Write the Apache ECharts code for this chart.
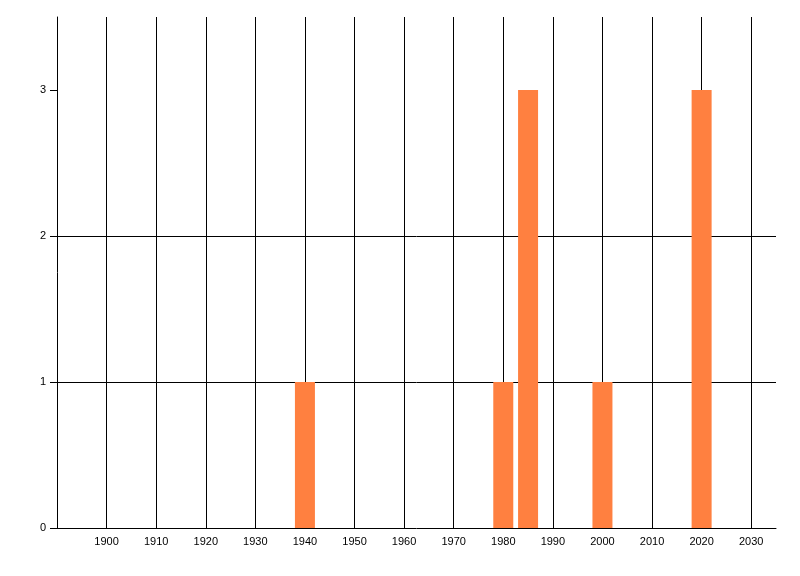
<!DOCTYPE html>
<html>
	<head>
		<meta charset="utf-8" />
		<title></title>
		<script type="text/javascript" src="https://cdn.jsdelivr.net/npm/echarts@6/dist/echarts.min.js"></script>
		<style>
			html, body { margin: 0; padding: 0; background: #fff; }
		</style>
	</head>
	<body>
		<div id="main" style="width:800px; height: 576px;"></div>
		<script>
			// years and counts
			var years  = [1940, 1980, 1985, 2000, 2020];
			var counts = [1, 1, 3, 1, 3];
			var yTicks = [0, 1, 2, 3];

			var points = [];
			for (var i = 0; i < years.length; i++) {
				points.push([years[i], counts[i]]);
			}

			var chartDom = document.getElementById('main');
			var myChart = echarts.init(chartDom);

			var option = {
				animation: false,
				textStyle: { fontFamily: 'Liberation Sans' },
				grid: { left: 57, right: 24, top: 17, bottom: 48 },
				xAxis: {
					type: 'value',
					min: 1890,
					max: 2035,
					interval: 10,
					axisLine: { show: true, lineStyle: { color: '#000', width: 1 } },
					axisTick: { show: false },
					axisLabel: {
						color: '#000',
						fontSize: 11,
						margin: 8,
						showMinLabel: false,
						showMaxLabel: false,
						formatter: function (v) { return String(v); }
					},
					splitLine: {
						show: true,
						showMinLine: false,
						showMaxLine: false,
						lineStyle: { color: '#000', width: 1 }
					}
				},
				yAxis: {
					type: 'value',
					min: 0,
					max: 3.5,
					interval: 1,
					axisLine: { show: true, lineStyle: { color: '#000', width: 1 } },
					axisTick: {
						show: true,
						length: 7,
						customValues: yTicks,
						lineStyle: { color: '#000' }
					},
					axisLabel: {
						color: '#000',
						fontSize: 11,
						margin: 11,
						customValues: yTicks
					},
					splitLine: {
						show: true,
						showMinLine: false,
						showMaxLine: false,
						lineStyle: { color: '#000', width: 1 }
					}
				},
				series: [
					{
						type: 'bar',
						barWidth: 20,
						itemStyle: { color: '#ff8040' },
						data: points
					}
				]
			};

			myChart.setOption(option);
		</script>
	</body>
</html>
